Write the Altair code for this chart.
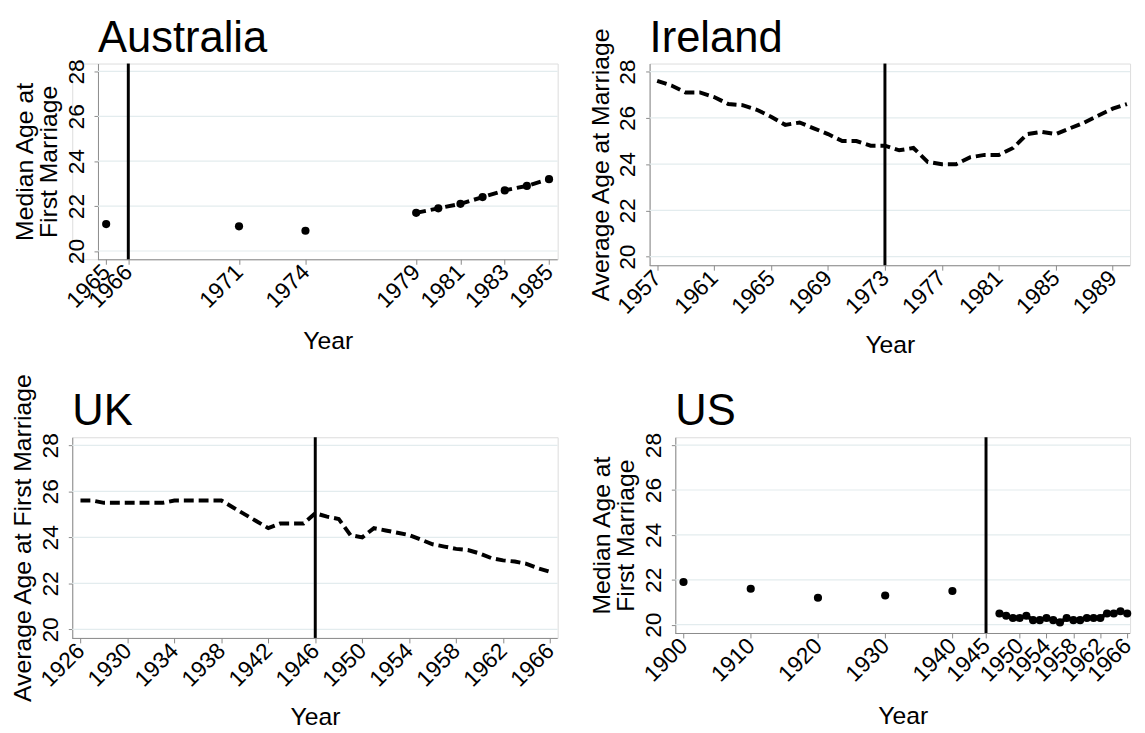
import altair as alt
import pandas as pd

FONT = "Liberation Sans"

# ---------------- data ----------------
aus_years = [1965, 1971, 1974, 1979, 1980, 1981, 1982, 1983, 1984, 1985]
aus_age = [21.2, 21.1, 20.9, 21.7, 21.9, 22.1, 22.4, 22.7, 22.9, 23.2]
aus_ticks = [1965, 1966, 1971, 1974, 1979, 1981, 1983, 1985]
aus_policy = [1966]

ire_years = list(range(1957, 1991))
ire_age = [27.6, 27.4, 27.1, 27.1, 26.9, 26.6, 26.55, 26.35, 26.05, 25.7,
           25.8, 25.55, 25.3, 25.0, 25.0, 24.8, 24.8, 24.6, 24.7, 24.1,
           24.0, 24.0, 24.3, 24.4, 24.4, 24.7, 25.3, 25.4, 25.3, 25.55,
           25.8, 26.1, 26.4, 26.6]
ire_ticks = [1957, 1961, 1965, 1969, 1973, 1977, 1981, 1985, 1989]
ire_policy = [1973]

uk_years = list(range(1926, 1967))
uk_age = [25.6, 25.6, 25.5, 25.5, 25.5, 25.5, 25.5, 25.5, 25.6, 25.6,
          25.6, 25.6, 25.6, 25.3, 25.0, 24.7, 24.4, 24.6, 24.6, 24.6,
          25.05, 24.9, 24.8, 24.1, 24.0, 24.4, 24.3, 24.2, 24.1, 23.9,
          23.7, 23.6, 23.5, 23.45, 23.3, 23.1, 23.0, 22.95, 22.85, 22.65,
          22.5]
uk_ticks = [1926, 1930, 1934, 1938, 1942, 1946, 1950, 1954, 1958, 1962, 1966]
uk_policy = [1946]

us_years = [1900, 1910, 1920, 1930, 1940,
            1947, 1948, 1949, 1950, 1951, 1952, 1953, 1954, 1955, 1956,
            1957, 1958, 1959, 1960, 1961, 1962, 1963, 1964, 1965, 1966]
us_age = [21.9, 21.6, 21.2, 21.3, 21.5,
          20.5, 20.4, 20.3, 20.3, 20.4, 20.2, 20.2, 20.3, 20.2, 20.1,
          20.3, 20.2, 20.2, 20.3, 20.3, 20.3, 20.5, 20.5, 20.6, 20.5]
us_ticks = [1900, 1910, 1920, 1930, 1940, 1945, 1950, 1954, 1958, 1962, 1966]
us_policy = [1945]

Y_TICKS = [20, 22, 24, 26, 28]
Y_DOMAIN = [19.63, 28.35]

GRID = "#e3ecee"
AXIS = "#8a8a8a"


def panel(years, ages, line_from, show_points, policy, ticks, xdom, w, h,
          title, ytitle, ext, xtitle_y, inset=0):
    """ext = (left, top, right, bottom) extents of the panel box around the plot.
    inset: the visible axes start this many pixels right of the panel's origin."""
    df = pd.DataFrame({"year": years, "age": ages})
    two_line = isinstance(ytitle, list)
    # extend the x domain to the left so the inset region keeps the same scale
    span = xdom[1] - xdom[0]
    ppy = (w - inset) / span
    dom = [xdom[0] - inset / ppy, xdom[1]]
    xaxis = alt.Axis(values=ticks, format="d", labelAngle=-45, labelAlign="right",
                     labelBaseline="middle", labelFontSize=23, labelFont=FONT,
                     labelColor="black", labelPadding=4, labelOverlap=False,
                     labelFlush=False, tickSize=5, tickColor=AXIS, domain=False,
                     grid=False, title="Year", titleFont=FONT, titleFontSize=25,
                     titleFontWeight="normal", titleColor="black",
                     titleBaseline="alphabetic", titleY=xtitle_y,
                     titleX=inset + (w - inset) / 2, titleAlign="center")
    yaxis = alt.Axis(values=Y_TICKS, labelAngle=270, labelAlign="center",
                     labelBaseline="alphabetic", labelFontSize=23, labelFont=FONT,
                     labelColor="black", labelPadding=11, labelFlush=False,
                     labelOverlap=False, tickSize=4, tickColor=AXIS, domainColor=AXIS,
                     grid=False, offset=-inset,
                     title=ytitle, titleFont=FONT, titleFontSize=25,
                     titleFontWeight="normal", titleColor="black", titleAngle=270,
                     titleAlign="center", titleBaseline="alphabetic",
                     titleLineHeight=24.5, titleX=(-66.5 if two_line else -42),
                     titleY=h / 2)
    x = alt.X("year:Q", scale=alt.Scale(domain=dom, nice=False, zero=False), axis=xaxis)
    y = alt.Y("age:Q", scale=alt.Scale(domain=Y_DOMAIN, nice=False, zero=False), axis=yaxis)

    layers = []
    grid = alt.Chart(pd.DataFrame({"age": Y_TICKS})).mark_rule(
        color=GRID, strokeWidth=1.2
    ).encode(y=y, x=alt.value(inset), x2=alt.value(w))
    layers.append(grid)
    baseline = alt.Chart(pd.DataFrame({"a": [0]})).mark_rule(
        color=AXIS, strokeWidth=1
    ).encode(x=alt.value(inset), x2=alt.value(w), y=alt.value(h + 0.5))
    layers.append(baseline)
    vrule = alt.Chart(pd.DataFrame({"year": policy})).mark_rule(
        color="black", strokeWidth=3
    ).encode(x=x, y=alt.value(0), y2=alt.value(h))
    layers.append(vrule)
    base = alt.Chart(df)
    line = base.transform_filter(alt.datum.year >= line_from).mark_line(
        color="black", strokeWidth=4, strokeDash=[10, 5], strokeCap="butt"
    ).encode(x=x, y=y)
    layers.append(line)
    if show_points:
        pts = base.mark_circle(color="black", size=68, opacity=1).encode(x=x, y=y)
        layers.append(pts)
    ttl = alt.Chart(pd.DataFrame({"t": [title]})).mark_text(
        align="left", baseline="alphabetic", fontSize=44, font=FONT, color="black"
    ).encode(text="t:N", x=alt.value(inset), y=alt.value(-12))
    layers.append(ttl)
    L, T, R, B = ext
    spacer = alt.Chart(pd.DataFrame({"a": [0]})).mark_rule(
        opacity=0, strokeOpacity=0, strokeWidth=0
    ).encode(x=alt.value(-L), y=alt.value(-T), x2=alt.value(w + R), y2=alt.value(h + B))
    layers.append(spacer)
    return alt.layer(*layers).properties(width=w, height=h)


# Australia: plot box starts at the same x as the UK's, its axes are inset by 26px
aus = panel(aus_years, aus_age, 1979, True, aus_policy, aus_ticks,
            [1964.63, 1985.39], 491, 198, "Australia",
            ["Median Age at", "First Marriage"], (64, 51, 5, 102), 90, inset=26)
ire = panel(ire_years, ire_age, 1957, False, ire_policy, ire_ticks,
            [1956.47, 1990.22], 486, 204, "Ireland",
            "Average Age at Marriage", (66, 51, 3, 96), 88)
uk = panel(uk_years, uk_age, 1926, False, uk_policy, uk_ticks,
           [1925.3, 1966.65], 491, 203, "UK",
           "Average Age at First Marriage", (64, 68, 5, 94), 88)
us = panel(us_years, us_age, 1947, True, us_policy, us_ticks,
           [1898.78, 1966.43], 460, 198, "US",
           ["Median Age at", "First Marriage"], (92, 68, 3, 98), 92)

chart = alt.concat(aus, ire, uk, us, columns=2, align="none",
                   spacing={"row": 8, "column": 20}).configure_view(
    stroke=None).configure(padding=0, background="white")

chart.save("out.html", embed_options={"renderer": "svg", "actions": False})
